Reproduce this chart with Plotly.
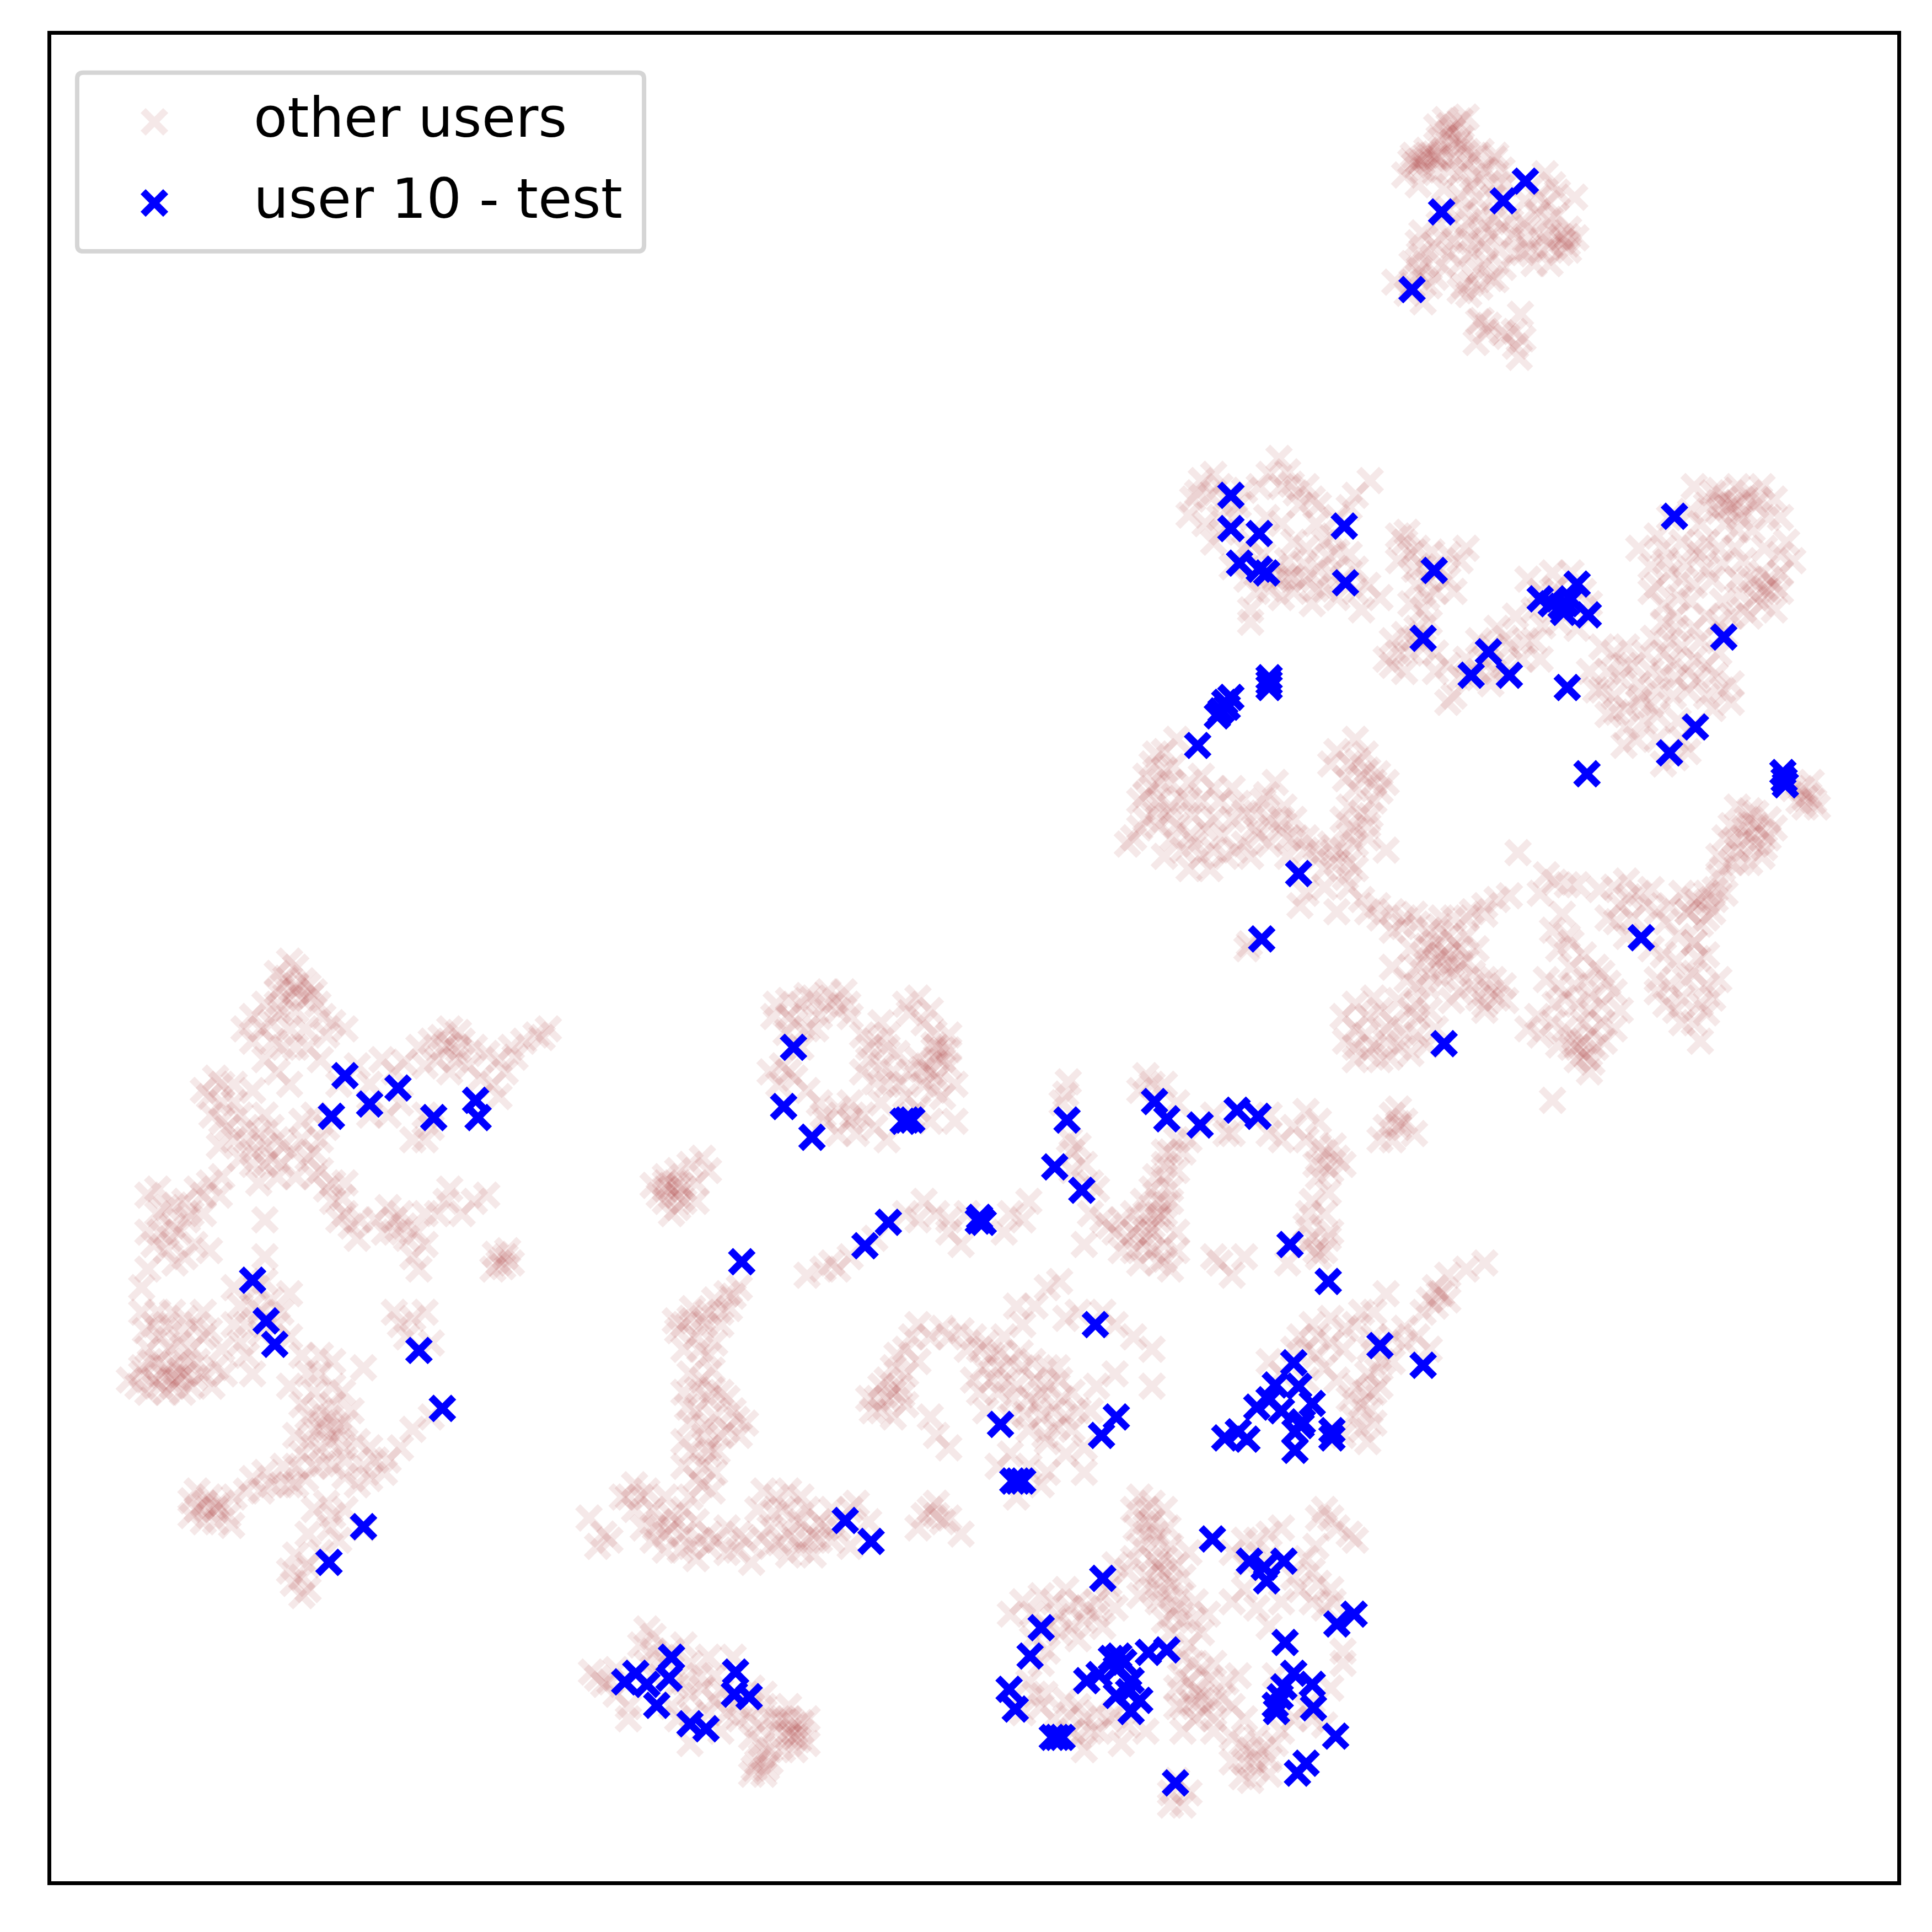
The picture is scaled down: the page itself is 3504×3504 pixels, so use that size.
import plotly.graph_objects as go

# points, axes are unlabelled so units are just picture units
other_top = [(1190,95),(1183,101),(1173,97),(1179,106),(1185,98),(1175,108),(1185,119),(1179,115),(1191,123),(1186,117),(1166,103),
    (1147,126),(1155,128),(1158,126),(1151,131),(1164,125),(1167,129),(1148,134),(1155,138),(1163,129),(1170,121),(1170,126),(1145,131),(1158,122),(1154,132),
    (1151,150),(1172,153),(1185,140),(1195,143),(1176,138),(1191,132),(1197,126),(1202,123),(1213,129),(1206,138),(1214,126),(1219,138),(1222,149),(1202,144),(1194,152),
    (1185,159),(1198,161),(1189,171),(1202,175),(1213,178),(1205,183),(1192,180),(1186,187),(1191,195),(1180,196),(1200,195),(1210,189),(1219,184),
    (1254,141),(1260,150),(1264,156),(1278,160),(1248,160),(1256,165),(1238,163),(1248,172),(1258,178),(1273,186),(1267,192),(1257,189),(1272,198),(1266,205),(1258,199),(1253,193),(1241,202),(1236,205),(1245,214),(1258,214),(1251,203),(1273,203),(1279,193),
    (1226,180),(1236,180),(1229,190),(1217,203),(1205,200),(1194,206),(1176,206),(1185,214),(1200,220),(1210,226),(1194,230),(1188,232),(1185,236),(1201,233),(1192,239),(1214,227),(1220,217),(1229,206),
    (1154,189),(1151,197),(1152,206),(1146,214),(1152,218),(1157,214),(1164,199),(1170,193),(1151,224),(1132,229),(1146,232),(1155,245),(1142,238),(1160,232),
    (1200,261),(1202,260),(1206,269),(1198,278),(1208,264),(1219,270),(1223,273),(1234,255),(1236,275),(1230,281),(1233,290),(1229,269)]

other_upper = [(975,390),(985,385),(990,395),(982,402),(972,400),(995,405),(1005,410),(1010,398),(965,418),(978,425),(990,420),(985,440),
    (1038,372),(1045,383),(1030,385),(1048,393),(1052,400),(1040,395),(1060,395),(1065,405),(1070,410),(1055,410),(1112,390),(1100,402),(1095,412),(1085,420),
    (1040,425),(1050,440),(1060,445),(1045,455),(1075,440),(1085,448),(1095,450),(1070,462),(1080,465),(1090,470),(1060,470),(1050,480),(1040,485),(1030,478),(1025,450),(1035,460),
    (1010,445),(1000,460),(1012,470),(1020,480),(1065,490),(1075,478),(1100,480),(1105,495),(1015,495),(1015,505),(1110,475),(1120,485),(1035,470),(1048,468),
    (1135,435),(1140,440),(1145,450),(1150,445),(1142,432),(1155,460),(1135,455),(1160,470),(1175,450),(1185,455),(1190,445),(1175,470),(1180,480),(1165,480),
    (1150,475),(1155,495),(1145,490),(1150,510),(1160,505),(1130,520),(1140,515),(1130,540),(1145,530),(1155,525),(1140,545),(1125,535),(1165,530),(1175,540),(1185,550),(1180,565),(1190,535),(1200,520),(1215,510),(1225,525),(1235,535),(1210,525),(1220,540),(1200,545),(1210,555),(1175,570),(1230,500),(1245,520),(1250,535),
    (1240,470),(1250,480),(1260,465),(1275,465),(1285,480),(1290,490),(1245,495),(1265,505),(1280,510)]

other_ring = [(1375,395),(1390,400),(1400,405),(1410,395),(1420,400),(1430,395),(1405,410),(1395,415),(1415,415),(1385,410),(1400,425),(1410,430),(1380,425),(1425,410),(1440,405),(1435,420),(1445,420),(1450,440),(1445,450),(1455,455),
    (1330,445),(1345,435),(1350,445),(1365,440),(1375,445),(1385,440),(1395,445),(1380,450),(1340,460),(1355,465),(1365,470),(1345,475),(1340,480),(1375,475),(1390,470),(1420,470),(1430,465),(1440,475),(1435,480),(1425,485),(1430,490),(1445,480),(1415,495),(1405,500),(1420,500),(1440,495),
    (1385,500),(1395,505),(1400,515),(1375,510),(1360,500),(1350,505),(1410,470),(1415,455),(1355,420),
    (1300,525),(1310,530),(1320,525),(1335,530),(1325,540),(1340,545),(1315,550),(1330,555),(1345,560),(1310,565),(1300,560),(1320,575),(1330,570),(1335,585),(1320,590),(1305,580),(1345,580),(1290,545),(1350,530),(1365,525),(1375,535),(1385,540),(1370,545),(1360,550),(1395,530),(1405,555),(1385,565),(1390,575),(1405,570),(1360,510),(1355,520),(1380,520),(1375,590),(1365,600),(1345,600),(1360,615),(1350,620),(1370,610),
    (1462,640),(1468,645),(1472,650),(1465,655),(1475,655),(1460,650),(1470,635),(1455,640),
    (1410,655),(1418,665),(1425,670),(1430,675),(1435,680),(1425,685),(1440,672),(1405,670),(1400,680),(1410,690),(1430,695),(1420,700),(1425,660),(1415,680),(1405,700),(1395,712),(1400,725),(1390,740),(1385,745),(1380,750),(1375,765),(1370,740),(1378,732),(1395,695),(1435,665)]

other_wide = [(945,610),(955,600),(935,620),(930,630),(945,625),(950,635),(935,640),(925,650),(940,650),(950,655),(930,665),(920,680),(915,685),(940,670),(955,670),(965,635),(975,630),(985,640),(975,650),(965,650),(990,650),(1000,640),(1010,660),(1000,665),(985,665),(1020,660),(1025,650),(1035,635),(1030,665),(1040,665),(1045,680),
    (960,690),(970,685),(985,690),(975,695),(965,705),(945,695),(995,695),(1010,685),(1015,695),(1030,685),(1050,665),(1060,680),(1045,695),(1060,690),(1070,695),(1080,685),(1090,690),(1085,700),(1075,705),(1100,685),(1110,680),(1100,705),(1110,670),(1125,690),
    (1085,610),(1100,600),(1080,620),(1095,620),(1105,630),(1115,635),(1125,635),(1110,625),(1100,640),(1115,650),(1105,660),(1095,655),(1090,665),
    (1055,735),(1060,725),(1085,740),(1075,720),(1095,700),(1014,766),(1012,770),
    (1095,720),(1105,730),(1110,740),(1120,745),(1130,740),(1140,745),(1130,755),(1150,750),(1160,755),(1170,745),(1180,745),(1195,740),(1205,735),(1215,730),(1225,727),(1165,765),(1175,760),(1155,775),(1165,780),(1175,775),(1160,790),(1150,785),(1180,790),(1170,795),(1185,770),(1190,780),(1195,790),(1205,795),(1210,805),(1215,810),(1200,810),(1195,800),(1205,820),(1220,800),(1145,770),(1130,785),(1150,800),(1190,760),(1205,815),(1185,805),
    (1100,815),(1110,825),(1100,835),(1115,810),(1130,830),(1145,820),(1150,825),(1125,845),(1100,850),(1110,855),(1135,850),(1145,855),(1150,840),(1115,850),(1120,860),(1165,835),(1160,820),(1100,860),(1125,835),
    (1232,692),(1255,710),(1262,716),(1272,718),(1280,718),(1250,725),
    (1310,720),(1320,715),(1330,725),(1315,735),(1325,745),(1335,735),(1305,745),(1345,740),(1365,725),(1375,730),(1370,740),(1355,735),(1385,725),
    (1320,760),(1340,770),(1350,775),(1360,780),(1375,765),(1385,775),(1375,790),(1385,800),(1395,795),(1390,810),(1380,815),(1365,810),(1355,800),(1345,805),(1375,830),(1380,845),(1365,830),(1360,820),(1345,795),
    (1260,755),(1265,770),(1275,765),(1285,775),(1295,785),(1300,790),(1275,785),(1265,800),(1255,795),(1270,810),(1280,815),(1290,820),(1310,805),(1300,815),(1285,830),(1300,830),(1240,835),(1250,840),(1260,830),(1270,835),(1285,845),(1295,850),(1280,860),(1288,858),(1290,870),(1275,850),(1310,835),(1315,820),(1260,893)]

other_left = [(235,780),(225,790),(240,785),(230,800),(240,800),(250,800),(245,810),(255,805),(235,810),(225,815),(220,830),(215,815),(205,825),(228,822),(240,820),(258,815),(262,825),(270,830),(280,835),(235,835),(230,850),(205,845),(215,860),(240,850),(250,850),(225,870),
    (175,875),(165,885),(180,880),(190,880),(170,890),(190,895),(180,910),(205,885),
    (195,905),(185,915),(190,925),(200,925),(205,935),(215,930),(205,945),(215,945),(220,940),(225,955),(210,960),(215,905),(220,915),(230,930),(245,910),(255,905),(245,925),(260,925),(265,915),(250,940),(235,880),(260,860),
    (275,880),(290,865),(310,860),(320,870),(340,850),(350,845),(365,835),(360,850),(375,845),(385,850),(370,860),(355,860),(345,865),(395,855),(405,860),(415,850),(425,845),(435,840),(445,835),(440,842),(410,870),(400,880),(405,890),(315,905),(335,925),(345,925),(350,915),(325,895),(345,905),
    (255,955),(260,950),(265,965),(270,975),(280,985),(285,995),(275,990),(290,1005),(315,980),(320,990),(325,985),(320,1000),(330,1005),(335,1020),(340,1030),(345,985),(355,985),(365,965),(375,985),(385,975),(395,970),(280,960),
    (410,1020),(405,1025),(408,1028),(412,1015),(400,1030),(415,1025),(402,1018),
    (120,970),(135,980),(150,975),(160,965),(170,960),(140,995),(130,1000),(145,1000),(155,985),(165,970),(180,955),(120,1030),(125,1010),(135,1015),(150,1020),(170,1015),(215,990),(215,1020),(165,985),
    (115,1065),(125,1075),(140,1065),(150,1070),(160,1075),(130,1085),(120,1095),(145,1090),(155,1095),(165,1085),(170,1080),(180,1095),
    (105,1120),(115,1115),(125,1120),(135,1110),(140,1125),(150,1115),(155,1125),(165,1115),(120,1130),(130,1125),(145,1120),(160,1105),(115,1110),(135,1130),(175,1110),(200,1100),(205,1115),(190,1075),(195,1060),(190,1045),(205,1060),(200,1075),(215,1040),(220,1055),(235,1050),(225,1075),(235,1085),
    (245,1100),(260,1100),(270,1105),(250,1115),(295,1110),(235,1125),(255,1130),(270,1125),(260,1145),(270,1140),(250,1150),(285,1145),(265,1160),(275,1165),(250,1170),(290,1170),(260,1175),(240,1165),(280,1185),(295,1190),(305,1185),(315,1185),(325,1175),(335,1160),(350,1150),(300,1200),(290,1205),(270,1190),(255,1190),(240,1190),(230,1190),(215,1195),(205,1200),(220,1205),(200,1210),(240,1205),
    (160,1225),(170,1215),(175,1225),(180,1220),(165,1235),(175,1235),(185,1230),(190,1215),(155,1230),(168,1225),
    (265,1220),(270,1230),(280,1225),(295,1240),(235,1205),(275,1250),(240,1262),(250,1270),(245,1280),(235,1275),(250,1290),(260,1260),(245,1295),
    (335,1070),(325,1075),(345,1065),(330,1085),(350,1090),(320,1065)]

other_middle = [(630,815),(640,825),(650,815),(660,810),(672,805),(685,805),(670,815),(680,820),(665,825),(645,830),(655,835),(690,825),(650,850),
    (625,870),(635,865),(640,870),(632,880),(645,875),(655,885),(665,895),(670,910),(680,900),(690,910),(700,905),(695,920),(680,920),(710,915),(720,925),
    (700,840),(715,830),(720,840),(735,815),(745,810),(750,830),(755,820),(705,860),(715,865),(720,850),(725,870),(700,870),(760,850),(770,840),(765,860),(755,870),(745,860),(760,875),(770,865),(750,880),(735,890),(715,895),(730,880),(765,890),(775,880),(745,900),(755,910),(775,910),
    (530,962),(540,955),(550,950),(560,945),(570,940),(575,950),(565,960),(545,965),(550,970),(540,975),(555,975),(545,985),(565,975),(535,970),(548,960),(555,965),(540,965),(550,980),
    (655,1035),(668,1030),(680,1030),(675,1025),(690,1020),(710,1005),(735,985),
    (750,975),(760,985),(745,990),(770,1000),(785,985),(780,1010),(770,990),(820,985),(830,990),(835,975),(815,1000),
    (600,1045),(590,1050),(580,1055),(575,1065),(585,1065),(570,1070),(560,1070),(555,1075),(550,1080),(565,1085),(580,1090),(575,1100),(555,1095),(585,1075),
    (560,1115),(570,1120),(555,1130),(575,1135),(585,1130),(565,1145),(580,1150),(595,1145),(605,1155),(590,1160),(585,1165),(560,1155),(555,1170),(575,1175),(600,1165),(570,1190),(580,1195),(565,1200),(555,1190),(560,1215),(570,1205),(575,1180),
    (515,1205),(520,1215),(505,1215),(525,1210),(515,1225),(478,1232),(490,1245),(485,1255),(495,1250),
    (530,1225),(540,1215),(545,1230),(555,1225),(535,1235),(540,1245),(530,1250),(545,1240),(555,1245),(565,1235),(575,1245),(560,1255),(565,1265),(575,1255),(590,1240),(605,1250),(610,1268),(590,1260),(600,1245),
    (620,1210),(630,1215),(640,1210),(650,1215),(635,1225),(655,1225),(665,1235),(625,1240),(640,1245),(645,1250),(655,1250),(665,1250),(640,1262),(625,1255),(660,1245),(650,1235),(675,1225),(690,1225),(705,1235),(695,1220),(690,1255),(675,1250),(660,1262),
    (760,1230),(755,1225),(765,1235),(745,1240),(780,1245),(760,1220),(770,1232),(750,1230)]

other_arc = [(745,1075),(755,1085),(765,1078),(735,1095),(745,1105),(725,1110),(735,1115),(715,1125),(725,1130),(705,1135),(715,1145),(725,1150),(735,1140),(730,1125),(720,1135),(760,1165),(770,1175),(755,1150),
    (780,1080),(790,1085),(800,1090),(785,1095),(805,1100),(815,1085),(830,1075),(840,1060),(850,1045),(860,1040),(825,1060),(865,1070),(875,1065),(895,1065),(905,1075),(920,1085),(935,1095),
    (810,1110),(820,1105),(830,1110),(815,1120),(825,1125),(840,1120),(850,1110),(810,1130),(835,1135),(845,1130),(860,1120),(870,1130),(855,1145),(865,1150),(845,1150),(875,1145),(890,1125),(905,1115),(935,1125),(870,1160),(865,1180),(880,1175),(850,1170),(835,1160),(820,1150),(800,1145),(795,1130),(880,1195),(810,1190),(820,1180),(835,1190),(845,1205),(850,1195),(825,1215),(790,1120),
    (867,878),(862,895),(865,888),(868,925),(870,935),(875,930),(880,945),(870,950),(885,960),(890,965),
    (930,873),(925,885),(935,880),(945,880),(955,895),(965,925),(955,925),(950,935),(960,935),(945,945),(955,950),(945,955),(935,965),(940,975),(930,985),(940,990),(950,975),(925,995),(930,1005),(915,1005),(905,1000),(895,990),(885,985),(910,990),(920,1015),(935,1015),(945,1010),(955,1015),(925,1025),(940,1025),(950,1030),(935,1000),(920,1000),
    (880,1010),(985,1020),(990,1025),(1000,1035),(1010,1020),
    (1060,902),(1050,915),(1070,910),(1060,925),(1070,930),(1075,935),(1085,940),(1075,945),(1080,950),(1070,955),(1090,945),(1078,968),(1065,975),(1075,985),(1060,995),(1065,1005),(1080,1000),(1070,1020),(1075,1015),(1045,1025),(1060,1010),
    (1030,920),(1040,925),(1000,920),(985,905),(995,920),(1030,905),
    (1130,905),(1135,915),(1125,915),(1140,910),(1120,925),(1148,920),(1130,925),(1135,900),
    (1205,1025),(1190,1030),(1175,1035),(1165,1045),(1170,1050),(1160,1055),(1175,1055),(1165,1060),(1155,1065),(1125,1050),(1115,1065),(1105,1065),
    (1080,1070),(1065,1075),(1055,1085),(1070,1085),(1080,1090),(1060,1095),(1090,1095),(1100,1075),(1115,1085),(1130,1085),(1140,1090),(1150,1085),(1160,1095),(1130,1105),(1110,1115),(1115,1130),(1105,1140),(1120,1125),(1105,1160),(1110,1170),(1115,1155),(1090,1165),(1085,1120),(1095,1135),(1100,1125),
    (1060,1120),(1040,1115),(1030,1105)]

other_bottom = [(925,1215),(935,1220),(930,1225),(920,1225),(945,1225),(935,1235),(930,1245),(925,1255),(940,1250),(950,1255),(955,1270),(935,1265),(945,1265),(920,1265),(915,1275),(905,1270),(900,1285),(930,1280),(940,1275),(950,1285),(965,1260),(960,1280),(950,1295),(940,1300),(955,1305),(945,1315),(960,1315),(970,1300),(980,1310),(950,1325),(975,1325),(965,1335),
    (830,1300),(820,1310),(845,1295),(855,1300),(865,1290),(875,1300),(880,1315),(890,1310),(895,1320),(875,1330),(860,1325),(870,1320),(850,1340),(845,1350),(900,1290),(905,1305),(850,1320),
    (835,1365),(840,1375),(830,1390),(845,1385),(855,1395),(875,1385),(865,1380),(880,1395),(890,1390),(900,1395),(880,1420),(875,1410),(870,1405),(885,1405),(910,1415),(915,1400),(930,1405),
    (960,1345),(975,1355),(985,1350),(965,1365),(975,1375),(985,1380),(955,1370),(960,1385),(970,1395),(985,1395),(960,1405),(995,1365),(1000,1385),(1010,1395),(1000,1410),(1015,1420),(1025,1420),(1010,1430),(1020,1435),(1030,1440),(1035,1415),(1000,1430),(1015,1445),(985,1405),(1035,1360),(1005,1360),
    (955,1445),(950,1455),(965,1455),(960,1465),(950,1465),
    (1075,1225),(1080,1232),(1070,1232),(1095,1245),(1100,1250),(1085,1240),(1040,1240),(1030,1245),(1010,1250),(1000,1260),(1020,1250),(1060,1265),(1065,1275),(1070,1285),(1080,1290),(1055,1290),(1065,1300),(1040,1300),(1020,1305),(1075,1305),(1090,1340),(1090,1350),(1030,1320),(1010,1290),(1000,1300),(1080,1370),(1065,1395),(1075,1400),(1060,1385),(1050,1395),(1040,1405),
    (525,1322),(520,1335),(530,1340),(545,1340),(555,1335),(480,1357),(485,1362),(490,1367),(495,1365),(525,1350),(530,1360),(560,1350),(575,1345),(580,1360),(595,1345),(555,1365),(560,1375),(570,1370),(580,1380),(590,1390),(575,1390),(500,1375),(510,1385),(510,1395),(545,1385),(550,1395),(560,1415),(585,1405),(610,1370),(620,1375),(625,1395),(615,1400),(600,1395),(610,1410),
    (640,1385),(635,1395),(645,1400),(640,1410),(650,1405),(655,1415),(630,1405),(635,1420),(645,1420),(655,1395),(648,1412),(615,1430),(610,1440),(620,1440),(625,1430),(618,1425),(612,1435),(625,1420)]

# extra marks where the reference is darkest
other_dense = [(240,804),(246,796),(232,794),(252,808),(365,848),(358,842),(372,852),(176,1222),(166,1220),
    (552,962),(540,960),(1168,112),(1186,112),(1176,102),
    (1268,196),(1272,192),(1410,408),(1402,412),(1416,404),(1395,408),(1432,478),(1426,474),(1436,470),(1170,775),(1162,770),(1178,782),
    (1285,855),(1280,850),(1292,862),(1168,1050),(1135,912),(760,858),(752,865),(758,848),(765,852),(940,985),(945,978),(935,995),(950,965),
    (645,1410),(640,1405),(140,1118),(132,1116),(146,1112),(268,1150),(262,1155),(274,1158),(940,1270),(945,1275),(975,1380),(970,1372)]

# second pass over the clusters that still looked too thin
other_fill = [(1140,142),(1165,140),(1180,128),(1212,160),(1175,170),(1215,150),(1240,185),(1170,215),(1165,225),(1238,195),(1263,175),(1206,212),(1168,182),
    (968,405),(992,432),(1002,420),(1028,420),(1015,440),(1068,425),(1082,435),(1058,458),(1078,452),(1100,462),(1085,485),(1022,395),(1052,470),(1068,478),(1042,468),
    (1148,462),(1168,462),(1162,448),(1158,485),(1135,530),(1148,518),(1165,545),(1192,550),(1205,535),(1222,518),(1212,545),(1238,520),(1262,478),(1252,508),(1270,485),
    (1395,398),(1412,420),(1428,405),(1372,415),(1352,455),(1368,458),(1385,462),(1398,458),(1445,465),(1432,445),(1422,430),(1412,482),(1398,488),(1372,488),(1350,492),(1362,485),(1408,445),
    (1318,540),(1305,545),(1332,565),(1340,572),(1350,548),(1358,565),(1370,560),(1378,552),(1392,548),(1318,605),(1328,600),(1295,560),(1312,578),(1362,585),(1358,538),(1342,518),(1398,560),
    (1415,672),(1422,678),(1408,682),(1432,688),(1420,658),(1392,722),(1385,732),(1412,700),(1398,705),(1465,648),
    (938,612),(942,635),(952,622),(930,645),(938,660),(925,672),(948,662),(958,648),(968,662),(978,672),(992,678),(1005,652),(1018,672),(1028,645),(1022,678),(1042,655),(952,680),(966,678),(982,705),(1002,690),(1038,672),(1052,680),(1068,688),(1082,692),(1095,678),(1092,712),(1102,618),(1092,632),(1120,642),(1108,612),(1112,662),(1118,628),(1098,672),
    (1118,735),(1138,752),(1148,742),(1158,768),(1168,752),(1180,765),(1172,785),(1158,800),(1185,782),(1198,770),(1142,795),(1212,795),(1222,812),(1178,812),(1205,742),(1190,745),(1150,815),(1120,820),(1135,812),(1108,840),(1140,838),(1128,858),(1090,825),(1092,845),(1158,848),
    (1322,728),(1340,722),(1312,748),(1298,722),(1352,748),(1362,760),(1392,730),(1378,778),(1368,795),(1352,815),(1385,822),(1272,760),(1288,795),(1278,800),(1262,815),(1292,808),(1305,798),(1248,825),(1278,842),(1265,848),(1292,838),(1302,845),(1268,742),
    (225,805),(212,835),(222,845),(265,840),(248,835),(198,835),(180,895),(172,905),(200,915),(210,920),(225,925),(228,945),(238,935),(240,955),(195,940),(178,930),(255,935),(300,880),(328,862),(365,870),(380,865),(390,875),(418,858),(372,838),(300,905),
    (270,960),(278,972),(292,990),(305,990),(312,1000),(328,995),(338,1000),(345,1010),(362,975),(128,985),(142,978),(128,965),(152,990),(138,1005),(120,1000),(142,1025),(158,1010),(178,970),(115,1045),
    (128,1065),(135,1075),(148,1080),(118,1080),(138,1095),(165,1065),(128,1105),(152,1105),(142,1108),(112,1125),(122,1105),(158,1118),(148,1130),(172,1125),(182,1115),(212,1065),(195,1090),(208,1045),(228,1065),(212,1082),
    (258,1115),(245,1140),(278,1130),(255,1160),(268,1170),(280,1155),(245,1180),(278,1175),(300,1175),(262,1188),(280,1198),(248,1200),(312,1195),(228,1205),(212,1210),(160,1210),(155,1218),(188,1238),(255,1225),(250,1245),(268,1240),(238,1285),
    (640,812),(655,808),(678,812),(662,835),(638,838),(628,825),(688,815),(705,850),(710,845),(728,855),(738,822),(758,838),(770,852),(748,868),(738,870),(720,880),(710,878),(758,885),(690,895),(668,905),(692,905),(740,905),
    (595,1052),(572,1075),(562,1062),(592,1062),(568,1095),(548,1072),(578,1112),(566,1128),(578,1128),(590,1135),(558,1142),(572,1158),(598,1152),(572,1165),(582,1178),(562,1178),(578,1210),
    (510,1215),(532,1240),(550,1235),(522,1240),(540,1258),(552,1258),(568,1250),(582,1250),(598,1258),(615,1225),(628,1228),(645,1232),(632,1252),(650,1258),(618,1248),(670,1240),(680,1240),
    (740,1085),(728,1100),(720,1120),(712,1135),(732,1132),(708,1145),(770,1085),(795,1095),(812,1098),(798,1110),(828,1098),(838,1105),(805,1120),(822,1135),(850,1125),(862,1135),(842,1140),(832,1148),(848,1165),(858,1158),(858,1110),(885,1145),
    (945,935),(938,955),(928,975),(920,985),(900,995),(945,985),(955,1000),(910,1015),(928,1012),(945,1022),(1068,945),(1082,930),(1062,985),(1078,1005),(1068,1015),(1112,1095),(1122,1105),(1118,1112),(1108,1130),(1098,1150),(1112,1145),(1068,1100),(1050,1095),(1075,1110),(1092,1078),(1140,1078),
    (930,1235),(938,1245),(922,1240),(948,1240),(942,1290),(958,1295),(935,1290),(968,1315),(952,1310),(925,1295),(890,1300),(858,1312),(868,1305),(838,1310),(882,1305),(838,1330),
    (968,1350),(958,1360),(982,1362),(968,1382),(992,1378),(978,1388),(955,1385),(1008,1415),(1020,1410),(1018,1428),(1008,1442),(1030,1428),(848,1375),(868,1392),(892,1405),(905,1392),(1068,1255),(1082,1300),(1050,1280),(1028,1265),(1012,1270),
    (500,1355),(530,1328),(538,1345),(548,1368),(568,1360),(585,1372),(562,1392),(598,1385),(608,1392),(620,1385),(632,1395),(640,1395),(650,1398),(618,1415),(622,1435)]

user_x = [1238,1220,1170,1146,
    999,999,1022,1091,1006,1022,1028,1092,1164,1359,1280,1250,1259,1267,1271,1269,1275,1289,1155,1399,1208,1194,1225,1272,1030,1030,1030,999,994,988,996,991,972,1376,1355,1288,1447,1448,1449,1054,1024,1332,1172,
    280,300,323,269,352,386,388,205,216,223,340,359,295,267,
    644,636,659,733,736,740,721,702,602,794,798,795,
    866,856,878,937,947,974,1004,1021,1047,1078,1120,1155,889,1050,1054,1035,1030,1020,1040,1065,1056,1051,1057,1005,994,1012,1081,1081,1051,812,894,906,822,826,830,
    686,707,545,516,507,525,543,533,560,573,597,596,608,
    984,895,1014,1042,1026,1028,1085,1099,845,836,819,824,882,892,902,908,912,906,932,947,906,918,916,925,918,858,854,862,954,1050,1065,1066,1042,1039,1035,1036,1043,1084,1060,1053]
user_y = [147,163,172,235,
    402,429,433,427,457,462,465,473,463,419,474,486,490,492,490,497,486,499,518,517,529,548,548,558,550,558,554,566,570,581,574,577,605,590,611,628,627,633,637,709,762,761,847,
    873,896,883,906,907,893,907,1039,1072,1091,1096,1143,1239,1268,
    850,898,923,910,909,909,992,1011,1024,991,992,988,
    909,947,966,894,908,913,901,906,1010,1040,1092,1108,1075,1106,1125,1124,1136,1142,1145,1139,1157,1162,1154,1162,1167,1168,1161,1167,1177,1156,1165,1150,1202,1202,1202,
    1234,1251,1345,1358,1365,1367,1362,1384,1399,1403,1357,1375,1377,
    1249,1281,1267,1267,1272,1283,1318,1310,1321,1344,1371,1387,1364,1359,1346,1344,1349,1354,1341,1339,1376,1364,1373,1380,1389,1410,1410,1410,1447,1358,1367,1386,1369,1377,1384,1389,1333,1409,1431,1439]

legend_labels = ['other users', 'user 10 - test']
legend_x = [125.3, 125.3]
legend_y = [98.9, 164.7]
legend_text_x = 204.8
legend_text_y = [95.5, 161.5]

other_points = other_top + other_upper + other_ring + other_wide + other_left + other_middle + other_arc + other_bottom + other_dense + other_fill
other_x = [p[0] for p in other_points]
other_y = [p[1] for p in other_points]

OTHER_COLOR = 'brown'
USER_COLOR = '#0000ff'
MARK_SIZE = 41
MARK_WIDTH = 13


def mark_style(color, alpha):
    return dict(symbol='x-thin', size=MARK_SIZE, opacity=alpha,
                line=dict(color=color, width=MARK_WIDTH))


fig = go.Figure()
fig.add_trace(go.Scatter(x=other_x, y=other_y, mode='markers', name=legend_labels[0],
                         marker=mark_style(OTHER_COLOR, 0.1)))
fig.add_trace(go.Scatter(x=user_x, y=user_y, mode='markers', name=legend_labels[1],
                         marker=mark_style(USER_COLOR, 1)))

# legend keys are too big for the plotly legend, so it is drawn by hand
fig.add_trace(go.Scatter(x=legend_x[:1], y=legend_y[:1], mode='markers',
                         marker=mark_style(OTHER_COLOR, 0.1)))
fig.add_trace(go.Scatter(x=legend_x[1:], y=legend_y[1:], mode='markers',
                         marker=mark_style(USER_COLOR, 1)))
for label, y in zip(legend_labels, legend_text_y):
    fig.add_annotation(x=legend_text_x, y=y, text=label, showarrow=False,
                       xanchor='left', yanchor='middle',
                       font=dict(family='DejaVu Sans', size=100, color='black'))

fig.add_shape(type='path', xref='x', yref='y', layer='below',
              path='M 67.6,59 L 517.7,59 Q 522.7,59 522.7,64 L 522.7,199 Q 522.7,204 517.7,204 '
                   'L 67.6,204 Q 62.6,204 62.6,199 L 62.6,64 Q 62.6,59 67.6,59 Z',
              line=dict(color='#d5d5d5', width=8), fillcolor='white')

axis_style = dict(showticklabels=False, ticks='', showgrid=False, zeroline=False,
                  showline=True, mirror=True, linecolor='black', linewidth=7)

# the page adds 8px of body margin on the top and left
fig.update_layout(
    width=3504, height=3504, autosize=False,
    margin=dict(l=85, r=71, t=55, b=100, pad=0),
    paper_bgcolor='white', plot_bgcolor='white',
    showlegend=False,
    xaxis=dict(range=[41.6, 1539.8], **axis_style),
    yaxis=dict(range=[1526.8, 28.2], **axis_style),
)

fig.write_html("out.html")
